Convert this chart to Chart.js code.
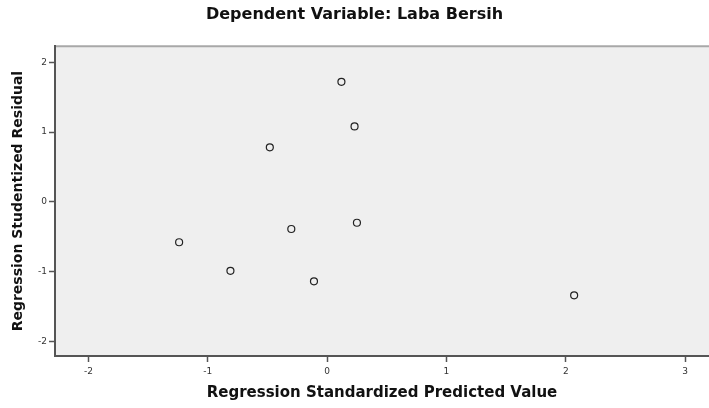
<!DOCTYPE html>
<html>
<head>
<meta charset="utf-8">
<script src="https://cdn.jsdelivr.net/npm/chart.js@4"></script>
<style>
  html, body { margin: 0; padding: 0; background: #fff; overflow: hidden; }
  canvas { display: block; }
</style>
</head>
<body>
<canvas id="scatter" width="709" height="408"></canvas>
<script>
// values
const predicted = [0.12, 0.23, -0.48, -0.30, 0.25, -1.24, -0.81, -0.11, 2.07];
const residual  = [1.72, 1.08, 0.78, -0.39, -0.30, -0.58, -0.99, -1.14, -1.34];
const xTicks = [-2, -1, 0, 1, 2, 3];
const yTicks = [-2, -1, 0, 1, 2];

const points = predicted.map((x, i) => ({ x: x, y: residual[i] }));

const plotBg = {
  id: 'plotBg',
  beforeDraw(chart) {
    const { ctx, chartArea: a } = chart;
    ctx.save();
    ctx.fillStyle = '#efefef';
    ctx.fillRect(a.left, a.top, a.right - a.left, a.bottom - a.top);
    ctx.strokeStyle = '#a8a8a8';
    ctx.lineWidth = 2;
    ctx.beginPath();
    ctx.moveTo(a.left, a.top);
    ctx.lineTo(a.right, a.top);
    ctx.stroke();
    ctx.restore();
  }
};

const tickFont = { family: 'DejaVu Sans', size: 9 };

new Chart(document.getElementById('scatter'), {
  type: 'scatter',
  data: {
    datasets: [{
      data: points,
      pointRadius: 3.5,
      pointHoverRadius: 3.5,
      pointBorderWidth: 1.2,
      pointBackgroundColor: 'rgba(0,0,0,0)',
      pointBorderColor: '#222'
    }]
  },
  plugins: [plotBg],
  options: {
    responsive: false,
    animation: false,
    layout: { padding: 0, autoPadding: false },
    plugins: {
      legend: { display: false },
      tooltip: { enabled: false },
      title: {
        display: true,
        text: 'Dependent Variable: Laba Bersih',
        color: '#111',
        font: { family: 'DejaVu Sans', size: 16, weight: 'bold', lineHeight: 1.2 },
        padding: { top: 5, bottom: 22 }
      }
    },
    scales: {
      x: {
        type: 'linear',
        min: -2.28,
        max: 3.2,
        afterFit(s) { s.height = 52; s.paddingLeft = 0; s.paddingRight = 0; },
        afterBuildTicks(s) { s.ticks = xTicks.map(v => ({ value: v })); },
        ticks: { font: tickFont, color: '#333', padding: 4, maxRotation: 0 },
        grid: { drawOnChartArea: false, drawTicks: true, tickLength: 6, tickColor: '#555', tickWidth: 1.5 },
        border: { display: true, color: '#555', width: 2 },
        title: {
          display: true,
          text: 'Regression Standardized Predicted Value',
          color: '#111',
          font: { family: 'DejaVu Sans', size: 15, weight: 'bold', lineHeight: 1.2 },
          padding: { top: 0, bottom: 6 }
        }
      },
      y: {
        type: 'linear',
        min: -2.21,
        max: 2.23,
        afterFit(s) { s.width = 55; s.paddingTop = 0; s.paddingBottom = 0; },
        afterBuildTicks(s) { s.ticks = yTicks.map(v => ({ value: v })); },
        ticks: { font: tickFont, color: '#333', padding: 2 },
        grid: { drawOnChartArea: false, drawTicks: true, tickLength: 6, tickColor: '#555', tickWidth: 1.5 },
        border: { display: true, color: '#555', width: 2 },
        title: {
          display: true,
          text: 'Regression Studentized Residual',
          color: '#111',
          font: { family: 'DejaVu Sans', size: 14, weight: 'bold', lineHeight: 1.2 },
          padding: { top: 10, bottom: 0 }
        }
      }
    }
  }
});
</script>
</body>
</html>
